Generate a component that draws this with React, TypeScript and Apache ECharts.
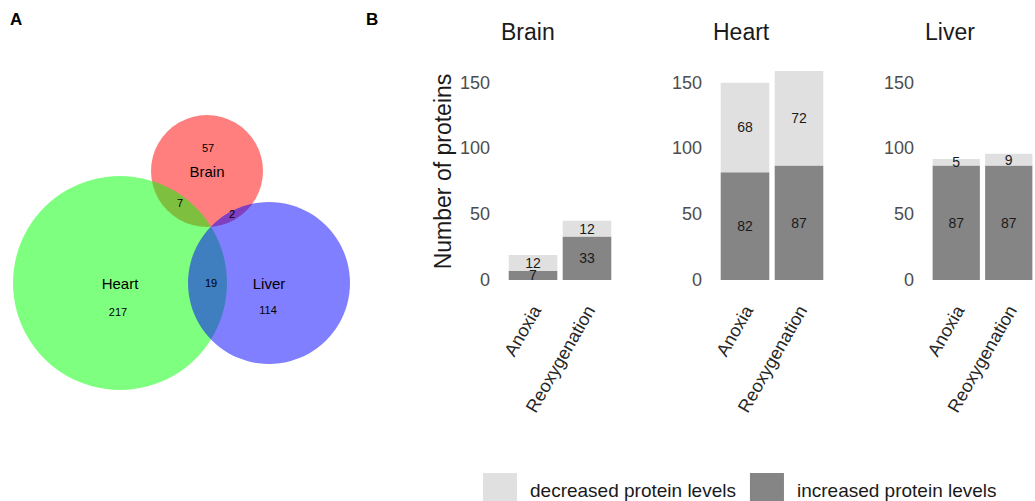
import React, { useEffect, useRef } from "react";
import * as echarts from "echarts";

// ---------- data ----------
const tissues = ["Brain", "Heart", "Liver"];
const conditions = ["Anoxia", "Reoxygenation"];
const increasedLevels = [
  [7, 33],
  [82, 87],
  [87, 87],
];
const decreasedLevels = [
  [12, 12],
  [68, 72],
  [5, 9],
];
const yTickStep = 50;
const yMax = 165;
const legendNames = ["decreased protein levels", "increased protein levels"];

const vennSets = ["Brain", "Heart", "Liver"];
// Brain only, Heart only, Liver only, Brain∩Heart, Brain∩Liver, Heart∩Liver
const vennRegionCounts = [57, 217, 114, 7, 2, 19];

// ---------- layout (positions / styles only) ----------
const FONT = "Liberation Sans, Arial, sans-serif";
const vennCircleLayout = [
  { cx: 207, cy: 171, r: 56, fill: "rgba(255,0,0,0.5)" },
  { cx: 120, cy: 283, r: 107, fill: "rgba(0,255,0,0.5)" },
  { cx: 269, cy: 283, r: 81, fill: "rgba(0,0,255,0.5)" },
];
const vennNamePos = [
  [207, 171],
  [120, 283],
  [269, 283],
];
const vennCountPos = [
  [208, 148],
  [118, 312],
  [268, 310],
  [180, 203],
  [232, 214],
  [211, 283],
];
const gridLefts = [506, 718, 930];
const gridTop = 63;
const gridHeight = 217;
const gridWidth = 108;
const COLOR_INC = "#858585";
const COLOR_DEC = "#e0e0e0";

export default function App() {
  const ref = useRef<HTMLDivElement>(null);

  useEffect(() => {
    if (!ref.current) return;
    const chart = echarts.init(ref.current, undefined, { renderer: "svg" });

    const grids = tissues.map((_, i) => ({
      left: gridLefts[i],
      top: gridTop,
      width: gridWidth,
      height: gridHeight,
    }));

    const xAxes = tissues.map((_, i) => ({
      type: "category",
      gridIndex: i,
      data: conditions,
      axisLine: { show: false },
      axisTick: { show: false },
      axisLabel: {
        interval: 0,
        rotate: 60,
        margin: 25,
        formatter: (v: string) => "{l|" + v + "}",
        rich: {
          l: {
            fontSize: 18,
            color: "#262626",
            fontFamily: FONT,
            padding: [8, 0, 0, 0],
          },
        },
      },
    }));

    const yAxes = tissues.map((_, i) => ({
      type: "value",
      gridIndex: i,
      min: 0,
      max: yMax,
      interval: yTickStep,
      splitLine: { show: false },
      axisLine: { show: false },
      axisTick: { show: false },
      axisLabel: {
        showMaxLabel: false,
        margin: 16,
        fontSize: 18,
        color: "#4d4d4d",
        fontFamily: FONT,
      },
      name: i === 0 ? "Number of proteins" : "",
      nameLocation: "middle",
      nameRotate: 90,
      nameGap: 52,
      nameTextStyle: { fontSize: 23, color: "#1a1a1a", fontFamily: FONT },
    }));

    const series: any[] = [];
    tissues.forEach((_, i) => {
      series.push({
        type: "bar",
        name: legendNames[1],
        xAxisIndex: i,
        yAxisIndex: i,
        stack: "s" + i,
        barWidth: "90%",
        data: increasedLevels[i],
        itemStyle: { color: COLOR_INC },
        label: {
          show: true,
          position: "inside",
          fontSize: 14,
          color: "#1a1a1a",
          fontFamily: FONT,
        },
      });
      series.push({
        type: "bar",
        name: legendNames[0],
        xAxisIndex: i,
        yAxisIndex: i,
        stack: "s" + i,
        barWidth: "90%",
        data: decreasedLevels[i],
        itemStyle: { color: COLOR_DEC },
        label: {
          show: true,
          position: "inside",
          fontSize: 14,
          color: "#1a1a1a",
          fontFamily: FONT,
        },
      });
    });

    const titles = tissues.map((t, i) => ({
      text: t,
      left: gridLefts[i] - 5,
      top: 20,
      padding: 0,
      textStyle: {
        fontSize: 23,
        fontWeight: "normal",
        color: "#1a1a1a",
        fontFamily: FONT,
      },
    }));

    const graphics: any[] = [];
    vennCircleLayout.forEach((c) => {
      graphics.push({
        type: "circle",
        shape: { cx: c.cx, cy: c.cy, r: c.r },
        style: { fill: c.fill },
      });
    });
    vennSets.forEach((s, i) => {
      graphics.push({
        type: "text",
        x: vennNamePos[i][0],
        y: vennNamePos[i][1],
        style: {
          text: s,
          fontSize: 15,
          fill: "#000",
          fontFamily: FONT,
          align: "center",
          verticalAlign: "middle",
        },
      });
    });
    vennRegionCounts.forEach((v, i) => {
      graphics.push({
        type: "text",
        x: vennCountPos[i][0],
        y: vennCountPos[i][1],
        style: {
          text: String(v),
          fontSize: 11,
          fill: "#000",
          fontFamily: FONT,
          align: "center",
          verticalAlign: "middle",
        },
      });
    });
    graphics.push({
      type: "text",
      x: 10,
      y: 11,
      style: { text: "A", fontSize: 17, fontWeight: "bold", fill: "#000", fontFamily: FONT },
    });
    graphics.push({
      type: "text",
      x: 366,
      y: 11,
      style: { text: "B", fontSize: 17, fontWeight: "bold", fill: "#000", fontFamily: FONT },
    });

    chart.setOption({
      animation: false,
      backgroundColor: "#ffffff",
      title: titles,
      grid: grids,
      xAxis: xAxes,
      yAxis: yAxes,
      series,
      legend: {
        data: legendNames,
        left: 483,
        top: 473,
        icon: "rect",
        itemWidth: 34,
        itemHeight: 34,
        itemGap: 14,
        padding: 0,
        textStyle: {
          fontSize: 19,
          color: "#1a1a1a",
          fontFamily: FONT,
          padding: [0, 0, 0, 8],
        },
        selectedMode: false,
      },
      graphic: graphics,
    });

    return () => chart.dispose();
  }, []);

  return (
    <div
      ref={ref}
      style={{ position: "fixed", left: 0, top: 0, width: 1035, height: 501 }}
    />
  );
}
